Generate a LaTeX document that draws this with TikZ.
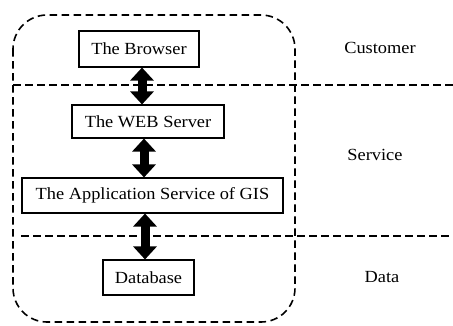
\documentclass[tikz,border=0pt]{standalone}
\usepackage{fontspec}
\setmainfont{Liberation Serif}[FakeStretch=1.08]
\usetikzlibrary{arrows.meta}
\begin{document}
\begin{tikzpicture}[x=1pt,y=-1pt,
  box/.style={draw, line width=1.1pt, inner sep=0pt, font=\fontsize{17}{20}\selectfont},
  lbl/.style={font=\fontsize{17}{20}\selectfont, inner sep=0pt},
  dline/.style={line width=1.6pt, dash pattern=on 7.5pt off 4.5pt},
  bigarrow/.style={line width=9pt, {Triangle[width=23pt,length=13pt]}-{Triangle[width=23pt,length=13pt]}}]
\useasboundingbox (0,0) rectangle (453,325);
% frame
\draw[dline, rounded corners=34pt] (13,15) rectangle (295,322);
% layer separators
\coordinate (l1a) at (13,85);
\coordinate (l1b) at (453,85);
\coordinate (l2a) at (21,236);
\coordinate (l2b) at (453,236);
\draw[dline] (l1a) -- (l1b);
\draw[dline] (l2a) -- (l2b);
% boxes
\node[box, minimum width=120pt, minimum height=36pt] (browser) at (139,49) {The Browser};
\node[box, minimum width=152pt, minimum height=33pt] (web) at (148,121.5) {The WEB Server};
\node[box, minimum width=261pt, minimum height=35pt] (app) at (152.5,195.5) {The Application Service of GIS};
\node[box, minimum width=91pt, minimum height=35pt] (db) at (148.5,277.5) {Database};
% arrows
\draw[bigarrow] (browser.south -| 142,0) -- (web.north -| 142,0);
\draw[bigarrow] (web.south -| 144,0) -- (app.north -| 144,0);
\draw[bigarrow] (app.south -| 145,0) -- (db.north -| 145,0);
% layer labels
\node[lbl] (cust) at (380,48) {Customer};
\node[lbl] (serv) at (375,155) {Service};
\node[lbl] (data) at (382,277) {Data};
\end{tikzpicture}
\end{document}
